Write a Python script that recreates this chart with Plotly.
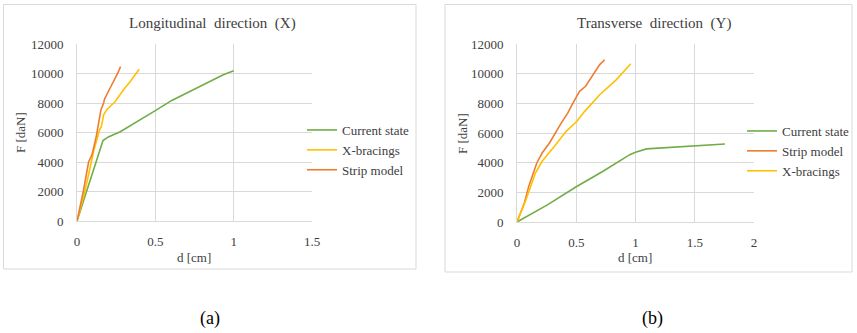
import plotly.graph_objects as go

W, H = 857, 333

# ---- Data: Longitudinal direction (X) ----
x_cur_d = [0, 0.06, 0.096, 0.12, 0.149, 0.166, 0.2, 0.276, 0.5, 0.605, 0.934, 1.0]
x_cur_F = [0, 2000, 3040, 4000, 4840, 5450, 5700, 6050, 7480, 8175, 9910, 10180]
x_xbr_d = [0, 0.05, 0.081, 0.106, 0.127, 0.144, 0.155, 0.17, 0.19, 0.244, 0.297, 0.34, 0.397]
x_xbr_F = [0, 2000, 3490, 4730, 5520, 6190, 6370, 7200, 7550, 8100, 8900, 9460, 10290]
x_str_d = [0, 0.04, 0.074, 0.096, 0.123, 0.144, 0.153, 0.17, 0.176, 0.2, 0.234, 0.26, 0.278]
x_str_F = [0, 2000, 4000, 4500, 5740, 6870, 7540, 8000, 8270, 8780, 9460, 10020, 10470]

# ---- Data: Transverse direction (Y) ----
y_cur_d = [0, 0.26, 0.5, 0.726, 0.952, 1.0, 1.093, 1.206, 1.5, 1.755]
y_cur_F = [0, 1170, 2380, 3420, 4540, 4700, 4930, 4990, 5150, 5260]
y_str_d = [0, 0.062, 0.099, 0.167, 0.212, 0.274, 0.373, 0.429, 0.472, 0.528, 0.579, 0.641, 0.698, 0.74]
y_str_F = [0, 1280, 2400, 3980, 4650, 5330, 6670, 7350, 8020, 8810, 9150, 9930, 10610, 10940]
y_xbr_d = [0, 0.076, 0.155, 0.212, 0.316, 0.415, 0.506, 0.571, 0.698, 0.839, 0.96]
y_xbr_F = [0, 1500, 3300, 4090, 5100, 6110, 6790, 7460, 8580, 9600, 10670]

y_ticks = [0, 2000, 4000, 6000, 8000, 10000, 12000]
x_ticks_a = [0, 0.5, 1, 1.5]
x_ticks_b = [0, 0.5, 1, 1.5, 2]

GREEN, ORANGE, YELLOW = "#70ad47", "#ed7d31", "#ffc000"
GRID = "#d9d9d9"
TXT = "#404040"
FONT = "Liberation Serif"

def px(x): return x / W
def py(y): return 1 - y / H

fig = go.Figure()
lw = 1.6
fig.add_trace(go.Scatter(x=x_cur_d, y=x_cur_F, mode="lines", name="Current state",
                         line=dict(color=GREEN, width=lw), xaxis="x", yaxis="y", legend="legend"))
fig.add_trace(go.Scatter(x=x_xbr_d, y=x_xbr_F, mode="lines", name="X-bracings",
                         line=dict(color=YELLOW, width=lw), xaxis="x", yaxis="y", legend="legend"))
fig.add_trace(go.Scatter(x=x_str_d, y=x_str_F, mode="lines", name="Strip model",
                         line=dict(color=ORANGE, width=lw), xaxis="x", yaxis="y", legend="legend"))

fig.add_trace(go.Scatter(x=y_cur_d, y=y_cur_F, mode="lines", name="Current state",
                         line=dict(color=GREEN, width=lw), xaxis="x2", yaxis="y2", legend="legend2"))
fig.add_trace(go.Scatter(x=y_str_d, y=y_str_F, mode="lines", name="Strip model",
                         line=dict(color=ORANGE, width=lw), xaxis="x2", yaxis="y2", legend="legend2"))
fig.add_trace(go.Scatter(x=y_xbr_d, y=y_xbr_F, mode="lines", name="X-bracings",
                         line=dict(color=YELLOW, width=lw), xaxis="x2", yaxis="y2", legend="legend2"))

axfont = dict(family=FONT, size=13, color=TXT)
def xax(dom, rng, ticks, anchor):
    return dict(domain=dom, range=rng, tickvals=ticks, ticktext=[f"{t:g}" for t in ticks],
                showgrid=True, gridcolor=GRID, gridwidth=1, zeroline=False,
                showline=True, linecolor=GRID, linewidth=1, mirror=False,
                tickfont=axfont, anchor=anchor, ticks="", ticklabelstandoff=8, fixedrange=True,
                automargin=False)
def yax(dom, anchor):
    return dict(domain=dom, range=[0, 12000], tickvals=y_ticks, ticktext=[str(t) for t in y_ticks],
                showgrid=True, gridcolor=GRID, gridwidth=1, zeroline=False,
                showline=True, linecolor=GRID, linewidth=1,
                tickfont=axfont, anchor=anchor, ticks="", ticklabelstandoff=10, fixedrange=True,
                automargin=False)

legfont = dict(family=FONT, size=13, color=TXT)
fig.update_layout(
    width=W, height=H, margin=dict(l=0, r=0, t=0, b=0, pad=0, autoexpand=False),
    paper_bgcolor="white", plot_bgcolor="white",
    xaxis=xax([px(77), px(312)], [0, 1.5], x_ticks_a, "y"),
    yaxis=yax([py(221), py(44)], "x"),
    xaxis2=xax([px(517), px(754)], [0, 2], x_ticks_b, "y2"),
    yaxis2=yax([py(222), py(44)], "x2"),
    legend=dict(x=px(302), y=py(115), xanchor="left", yanchor="top", font=legfont,
                itemwidth=30, bgcolor="rgba(0,0,0,0)", traceorder="normal", tracegroupgap=0),
    legend2=dict(x=px(742), y=py(116), xanchor="left", yanchor="top", font=legfont,
                 itemwidth=30, bgcolor="rgba(0,0,0,0)", traceorder="normal", tracegroupgap=0),
    showlegend=True,
)

shapes = [
    dict(type="rect", xref="paper", yref="paper", x0=px(3.5), x1=px(416), y0=py(269), y1=py(4.5),
         line=dict(color=GRID, width=1), fillcolor="rgba(0,0,0,0)"),
    dict(type="rect", xref="paper", yref="paper", x0=px(445), x1=px(852), y0=py(272), y1=py(4.5),
         line=dict(color=GRID, width=1), fillcolor="rgba(0,0,0,0)"),
]
fig.update_layout(shapes=shapes)

def ann(text, x, y, size, color=TXT, angle=0):
    fig.add_annotation(text=text, x=px(x), y=py(y), xref="paper", yref="paper",
                       showarrow=False, xanchor="center", yanchor="middle", textangle=angle,
                       font=dict(family=FONT, size=size, color=color))

ann("Longitudinal  direction  (X)", 212, 23, 15)
ann("Transverse  direction  (Y)", 654, 23, 15)
ann("d [cm]", 194, 257, 13)
ann("d [cm]", 635, 257, 13)
ann("F [daN]", 20, 133, 13, angle=-90)
ann("F [daN]", 462, 133, 13, angle=-90)
ann("(a)", 210, 318, 18, color="black")
ann("(b)", 652, 318, 18, color="black")

fig.write_html("out.html", config={"displayModeBar": False},
               post_script="document.body.style.margin='0';document.body.style.overflow='hidden';")
